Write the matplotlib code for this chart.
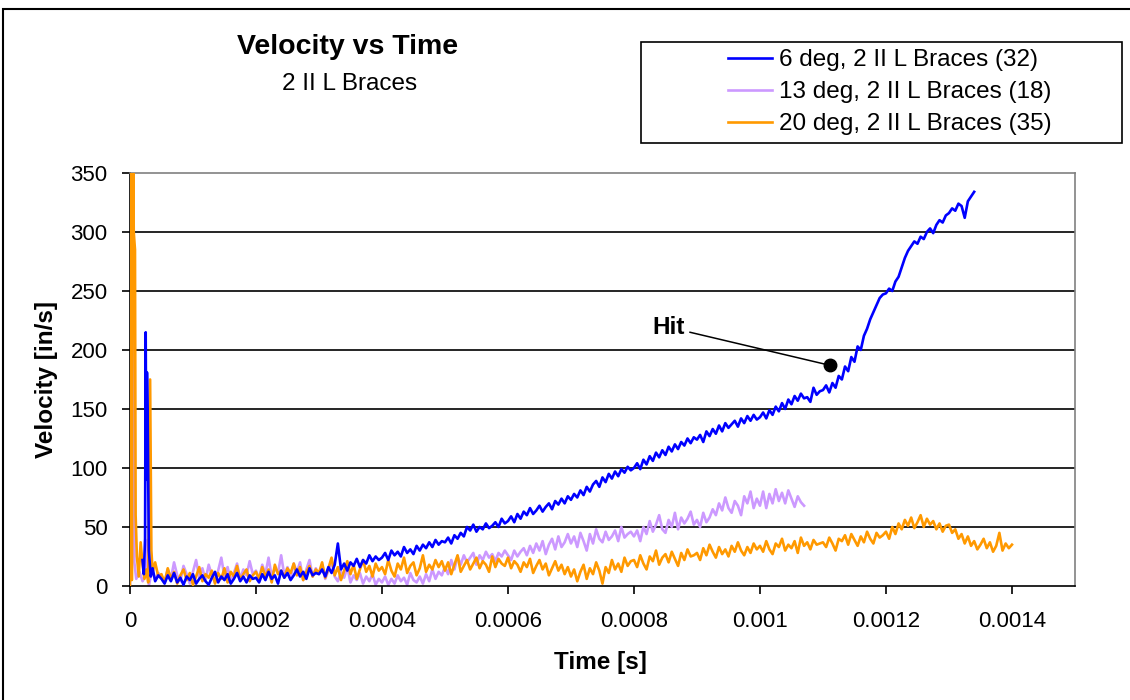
import numpy as np
import matplotlib
matplotlib.use('Agg')
import matplotlib.pyplot as plt
from matplotlib.patches import Rectangle
from matplotlib.lines import Line2D

plt.rcParams['font.family'] = ['Liberation Sans', 'DejaVu Sans']

# ---- data --------------------------------------------------------------------
DT = 5e-6          # sample step of the uniform part of every trace [s]
T0 = 5e-5          # first uniform sample [s]

labels = ['6 deg, 2 II L Braces (32)',
          '13 deg, 2 II L Braces (18)',
          '20 deg, 2 II L Braces (35)']

# 6 deg: impact spike, then the steady ramp (uniform part runs to 0.00134 s)
blue_start_t = [2.0e-5, 2.2e-5, 2.4e-5, 2.5e-5, 2.6e-5, 2.7e-5, 2.8e-5, 3.0e-5,
                3.3e-5, 3.6e-5, 4.0e-5, 4.5e-5]
blue_start_v = [22, 10, 40, 215, 90, 181, 150, 30, 8, 15, 4, 9]
blue_v = [6, 2, 9, 4, 11, 3, 7, 1, 8, 5,
          10, 2, 6, 9, 4, 1, 7, 12, 3, 8, 5, 10, 2, 6, 11, 4, 8, 3, 9, 6,
          7, 3, 10, 5, 12, 6, 9, 2, 13, 7, 11, 5, 9, 14, 8, 12, 6, 15, 9, 11,
          10, 14, 8, 16, 11, 18, 36, 14, 19, 13, 20, 17, 23, 16, 22, 19, 26, 21, 25, 22,
          24, 28, 22, 30, 26, 29, 25, 33, 28, 31, 27, 34, 30, 35, 32, 37, 33, 39, 35, 38,
          37, 41, 36, 43, 40, 45, 42, 50, 47, 52, 46, 50, 48, 53, 49, 51, 54, 50, 57, 53,
          55, 59, 54, 61, 57, 63, 60, 66, 61, 64, 68, 63, 67, 70, 65, 72, 69, 74, 70, 76,
          73, 78, 75, 81, 77, 84, 80, 86, 89, 84, 92, 88, 95, 91, 97, 93, 99, 96, 101, 98,
          100, 104, 99, 107, 103, 110, 106, 113, 109, 115, 111, 118, 114, 120, 116, 122,
          119, 125, 121, 126,
          124, 128, 122, 131, 127, 133, 129, 136, 131, 138, 134, 137, 140, 135, 142, 138,
          144, 140, 145, 141,
          143, 147, 142, 149, 145, 152, 148, 155, 150, 158, 154, 161, 157, 163, 159, 160,
          156, 168, 162, 165,
          166, 170, 164, 172, 168, 178, 175, 186, 182, 194, 190, 203, 200, 212, 218, 226,
          232, 238, 244, 247,
          248, 252, 250, 258, 262, 270, 278, 284, 288, 292, 290, 296, 294, 300, 303, 299,
          306, 310, 308, 314,
          316, 320, 318, 324, 322, 312, 326, 330, 334]

# 13 deg (uniform part runs to 0.00107 s)
purple_start_t = [0.0, 3e-6, 4e-6, 5e-6, 6e-6, 7e-6, 1.0e-5, 1.5e-5, 2.0e-5,
                  2.5e-5, 2.8e-5, 3.0e-5, 3.5e-5, 4.0e-5, 4.5e-5]
purple_start_v = [2, 380, 171, 360, 175, 20, 6, 12, 4, 10, 39, 0, 14, 5, 11]
purple_v = [8, 3, 14, 6, 20, 9, 4, 17, 10, 2,
            12, 22, 7, 15, 5, 18, 9, 3, 13, 24, 8, 16, 4, 11, 19, 6, 14, 9, 21, 10,
            13, 6, 18, 10, 24, 8, 15, 11, 26, 9, 16, 7, 19, 12, 20, 5, 14, 22, 8, 15,
            10, 18, 6, 13, 21, 8, 4, 12, 7, 16, 3, 9, 5, 11, 2, 8, 4, 10, 1, 6,
            3, 8, 1, 6, 2, 9, 4, 7, 1, 11, 5, 3, 8, 2, 10, 4, 14, 6, 12, 9,
            16, 10, 22, 14, 25, 18, 26, 20, 24, 28, 18, 26, 22, 29, 24, 27, 21, 28, 25, 30,
            26, 22, 30, 25, 29, 32, 26, 34, 28, 36, 30, 38, 27, 35, 40, 31, 42, 33, 37, 44,
            36, 42, 33, 45, 38, 30, 44, 36, 48, 40, 37, 46, 39, 42, 47, 38, 50, 41, 44, 46,
            42, 47, 38, 50, 44, 55, 46, 52, 60, 48, 45, 56, 50, 62, 48, 58, 53, 57, 63, 52,
            56, 50, 62, 54, 58, 65, 60, 70, 64, 75, 66, 62, 72, 68, 60, 76, 70, 80, 66, 74,
            68, 80, 66, 78, 70, 82, 72, 79, 70, 81, 74, 67, 76, 71, 68]

# 20 deg (uniform part runs to 0.0014 s)
orange_start_t = [0.0, 1e-6, 2e-6, 3e-6, 5e-6, 6e-6, 8e-6, 9e-6, 1.1e-5, 1.4e-5,
                  1.7e-5, 2.0e-5, 2.3e-5, 2.6e-5, 2.9e-5, 3.2e-5, 3.4e-5, 3.6e-5,
                  4.0e-5, 4.5e-5]
orange_start_v = [0, 380, 380, 5, 380, 300, 285, 60, 25, 8, 37, 18, 6, 14, 3, 175,
                  30, 12, 20, 8]
orange_v = [10, 3, 15, 6, 12, 2, 9, 14, 5, 11,
            1, 8, 16, 4, 10, 7, 13, 2, 11, 6, 15, 3, 12, 8, 17, 5, 10, 14, 4, 9,
            12, 6, 16, 8, 14, 3, 18, 10, 13, 7, 15, 11, 19, 9, 16, 5, 12, 17, 8, 14,
            11, 20, 7, 15, 24, 9, 16, 5, 13, 21, 10, 18, 6, 14, 22, 12, 17, 8, 19, 13,
            16, 10, 22, 13, 8, 19, 14, 24, 11, 17, 20, 9, 15, 26, 12, 18, 14, 22, 16, 21,
            13, 20, 10, 18, 26, 12, 17, 22, 14, 19, 24, 15, 21, 18, 12, 25, 16, 23, 19, 17,
            24, 15, 21, 18, 12, 20, 16, 23, 11, 17, 22, 14, 19, 9, 15, 21, 13, 18, 10, 16,
            8, 14, 4, 12, 18, 6, 15, 10, 20, 13, 2, 16, 11, 22, 14, 19, 12, 24, 17, 21,
            22, 16, 26, 19, 14, 25, 21, 30, 18, 24, 27, 20, 29, 23, 17, 28, 22, 31, 25, 26,
            28, 22, 32, 26, 35, 29, 24, 33, 27, 31, 25, 34, 29, 37, 30, 26, 33, 28, 36, 31,
            34, 29, 38, 31, 27, 36, 33, 40, 30, 35, 32, 38, 28, 41, 34, 37, 31, 39, 35, 36,
            37, 33, 41, 36, 30, 40, 38, 43, 35, 44, 39, 34, 42, 37, 46, 40, 36, 45, 41, 43,
            46, 40, 50, 44, 53, 48, 56, 51, 58, 49, 54, 60, 50, 57, 52, 55, 48, 53, 46, 51,
            52, 45, 48, 40, 44, 36, 42, 34, 38, 31, 35, 40, 32, 37, 29, 34, 45, 30, 36, 32,
            35]

hit_t, hit_v = 0.001111, 187
hit_line_t = [0.000889, 0.001111]
hit_line_v = [215, 187]
hit_text_t, hit_text_v = 0.00083, 213.5

x_ticks = [0, 0.0002, 0.0004, 0.0006, 0.0008, 0.001, 0.0012, 0.0014]
x_tick_labels = ['0', '0.0002', '0.0004', '0.0006', '0.0008', '0.001', '0.0012', '0.0014']
y_ticks = [0, 50, 100, 150, 200, 250, 300, 350]

colors = ['#0000FF', '#CC99FF', '#FF9900']


def trace(start_t, start_v, vals):
    t = np.concatenate([start_t, T0 + DT * np.arange(len(vals))])
    return t, np.concatenate([start_v, vals])


series = [trace(blue_start_t, blue_start_v, blue_v),
          trace(purple_start_t, purple_start_v, purple_v),
          trace(orange_start_t, orange_start_v, orange_v)]

# ---- figure -------------------------------------------------------------------
fig = plt.figure(figsize=(11.3, 7), dpi=100)
ax = fig.add_axes([0.1150, 0.1629, 0.8363, 0.5900])

zorders = [4, 2, 3]
for (t, v), c, z in zip(series, colors, zorders):
    ax.plot(t, v, color=c, lw=1.9, zorder=z)

ax.set_xlim(0, 0.0015)
ax.set_ylim(0, 350)
ax.set_xticks(x_ticks)
ax.set_xticklabels(x_tick_labels)
ax.set_yticks(y_ticks)

ax.yaxis.grid(True, color='black', lw=1.2)
ax.set_axisbelow(True)
ax.get_ygridlines()[-1].set_visible(False)
ax.get_ygridlines()[0].set_visible(False)

for side in ('top', 'right'):
    ax.spines[side].set_color('#808080')
for side in ('left', 'bottom'):
    ax.spines[side].set_color('black')
for s in ax.spines.values():
    s.set_linewidth(1.2)

ax.tick_params(axis='both', direction='out', length=6, width=1.2, labelsize=16)
ax.tick_params(axis='x', pad=12)
ax.tick_params(axis='y', pad=10)

# "Hit" callout
ax.plot(hit_line_t, hit_line_v, color='black', lw=1.1, zorder=5)
ax.plot([hit_t], [hit_v], 'o', color='black', ms=9, zorder=6)
ax.text(hit_text_t, hit_text_v, 'Hit', fontsize=17.5, fontweight='bold',
        ha='left', va='baseline')

# titles and axis labels
fig.text(348 / 1130, 1 - 54 / 700, 'Velocity vs Time', fontsize=20.5, fontweight='bold',
         ha='center', va='baseline')
fig.text(350 / 1130, 1 - 90 / 700, '2 II L Braces', fontsize=17.5,
         ha='center', va='baseline')
fig.text(600 / 1130, 1 - 663 / 700, 'Time [s]', fontsize=17.5, fontweight='bold',
         ha='center', va='center')
fig.text(47 / 1130, 1 - 380 / 700, 'Velocity [in/s]', fontsize=17.5, fontweight='bold',
         ha='center', va='center', rotation=90)

# legend: Excel-style box drawn separately so the padding can match
handles = [Line2D([], [], color=c, lw=1.9) for c in colors]
fig.legend(handles, labels, loc='upper left', bbox_to_anchor=(728 / 1130, 1 - 49 / 700),
           bbox_transform=fig.transFigure, frameon=False, fontsize=17.5,
           borderpad=0, borderaxespad=0, handlelength=1.8, handletextpad=0.28,
           labelspacing=0.42)
fig.patches.append(Rectangle((641 / 1130, 1 - 143 / 700), (1122 - 641) / 1130, 101 / 700,
                             transform=fig.transFigure, fill=False, ec='black', lw=1.2))

# outer chart-area border (runs off the right and bottom of the image)
fig.patches.append(Rectangle((3 / 1130, -0.1), 1.2, 0.987 + 0.1,
                             transform=fig.transFigure, fill=False, ec='black', lw=1.5))

fig.savefig('out.png', dpi=100)
